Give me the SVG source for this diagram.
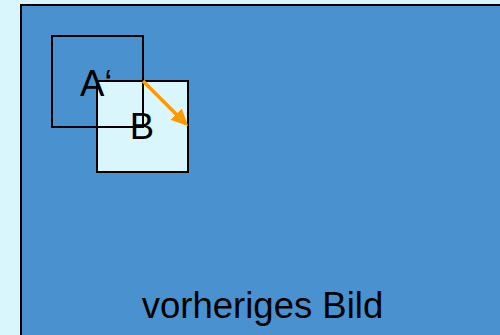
<svg xmlns="http://www.w3.org/2000/svg" width="500" height="335" viewBox="0 0 500 335">
<style>
.lbl{font-family:"Liberation Sans",Arial,sans-serif;fill:#000;font-size:36.5px}
.box{stroke:#000;stroke-width:2}
</style>
<defs>
<marker id="ah" markerWidth="17" markerHeight="16" refX="14" refY="8" orient="auto" markerUnits="userSpaceOnUse">
<path d="M0,0 L17,8 L0,16 z" fill="#ff9900"/>
</marker>
</defs>
<rect x="0" y="0" width="500" height="335" fill="#d9f6fd"/>
<g id="prev">
<rect x="21" y="5" width="490" height="340" fill="#4a92cf" class="box"/>
<text class="lbl" x="262.5" y="318" text-anchor="middle">vorheriges Bild</text>
</g>
<g id="B">
<rect x="97" y="81" width="91" height="91" fill="#d9f6fd" class="box"/>
<text class="lbl" x="142" y="139" text-anchor="middle">B</text>
</g>
<g id="A">
<rect x="52" y="36" width="91" height="91" fill="none" class="box"/>
<text class="lbl" x="80" y="96">A‘</text>
</g>
<g id="connectors">
<line x1="143" y1="81" x2="186" y2="124" stroke="#ff9900" stroke-width="3.5" marker-end="url(#ah)"/>
</g>
</svg>
